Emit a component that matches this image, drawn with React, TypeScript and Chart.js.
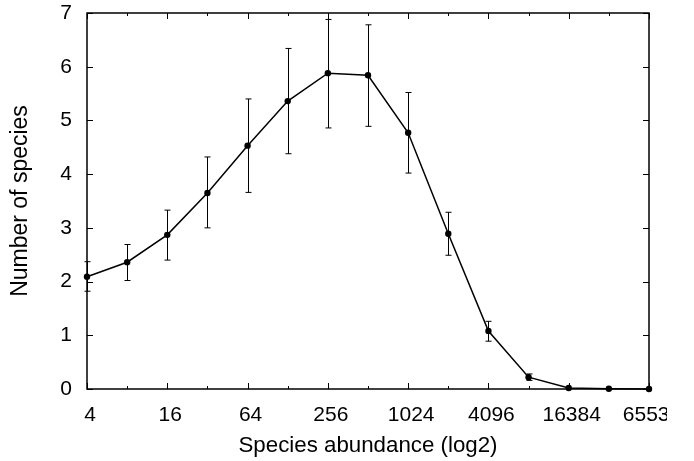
import React, { useEffect, useRef } from "react";
import { Chart, registerables } from "chart.js";

Chart.register(...registerables);

// Species abundance classes (log2 bins)
const abundance = [4, 8, 16, 32, 64, 128, 256, 512, 1024, 2048, 4096, 8192, 16384, 32768, 65536];
// Mean number of species per bin
const species = [2.09, 2.36, 2.87, 3.65, 4.53, 5.36, 5.88, 5.84, 4.77, 2.89, 1.08, 0.22, 0.02, 0.005, 0.0];
// Error bar bounds
const errLow = [1.82, 2.02, 2.4, 3.0, 3.66, 4.38, 4.86, 4.89, 4.02, 2.49, 0.89, 0.16, 0.02, 0.005, 0.0];
const errHigh = [2.37, 2.69, 3.33, 4.32, 5.4, 6.34, 6.88, 6.78, 5.52, 3.29, 1.26, 0.28, 0.02, 0.005, 0.0];
// Labelled x ticks
const xTickLabels = ["4", "16", "64", "256", "1024", "4096", "16384", "65536"];
const yTicks = [0, 1, 2, 3, 4, 5, 6, 7];

const FONT = "'Liberation Sans', Arial, Helvetica, sans-serif";

export default function App() {
  const ref = useRef<HTMLCanvasElement>(null);

  useEffect(() => {
    const canvas = ref.current!;
    const line = (ctx: CanvasRenderingContext2D, x1: number, y1: number, x2: number, y2: number) => {
      ctx.beginPath();
      ctx.moveTo(x1, y1);
      ctx.lineTo(x2, y2);
      ctx.stroke();
    };

    const framePlugin = {
      id: "gnuframe",
      beforeDatasetsDraw(chart: any) {
        const { ctx, chartArea, scales } = chart;
        const { left, right, top, bottom } = chartArea;
        const x = scales.x;
        const y = scales.y;
        ctx.save();
        ctx.strokeStyle = "#000";
        ctx.lineWidth = 1;
        abundance.forEach((v) => {
          const px = Math.round(x.getPixelForValue(v)) + 0.5;
          const major = xTickLabels.includes(String(v));
          const len = major ? 6 : 3;
          line(ctx, px, bottom, px, bottom - len);
          line(ctx, px, top, px, top + len);
        });
        yTicks.forEach((v) => {
          const py = Math.round(y.getPixelForValue(v)) + 0.5;
          line(ctx, left, py, left + 6, py);
          line(ctx, right, py, right - 6, py);
        });
        // error bars
        abundance.forEach((v, i) => {
          if (errHigh[i] - errLow[i] < 0.02) return;
          const px = Math.round(x.getPixelForValue(v)) + 0.5;
          const y1 = y.getPixelForValue(errLow[i]);
          const y2 = y.getPixelForValue(errHigh[i]);
          line(ctx, px, y1, px, y2);
          line(ctx, px - 3, y1, px + 3, y1);
          line(ctx, px - 3, y2, px + 3, y2);
        });
        ctx.lineWidth = 1.5;
        ctx.strokeRect(left, top, right - left, bottom - top);
        ctx.restore();
      },
      afterDraw(chart: any) {
        const { ctx, scales } = chart;
        const x = scales.x;
        ctx.save();
        ctx.beginPath();
        ctx.rect(0, 0, 667, 461);
        ctx.clip();
        ctx.font = `21px ${FONT}`;
        ctx.fillStyle = "#000";
        ctx.textAlign = "center";
        ctx.textBaseline = "alphabetic";
        xTickLabels.forEach((t) => {
          ctx.fillText(t, x.getPixelForValue(Number(t)) + 3, 421);
        });
        ctx.restore();
      },
    };

    const chart = new Chart(canvas, {
      type: "line",
      data: {
        datasets: [
          {
            data: abundance.map((a, i) => ({ x: a, y: species[i] })),
            borderColor: "#000",
            borderWidth: 1.5,
            pointRadius: 3.2,
            pointBackgroundColor: "#000",
            pointBorderColor: "#000",
            pointBorderWidth: 0,
            tension: 0,
            clip: false as any,
          },
        ],
      },
      options: {
        responsive: false,
        animation: false,
        devicePixelRatio: 1,
        layout: { padding: { left: 0, right: 45, top: 13, bottom: 0 } },
        plugins: { legend: { display: false }, tooltip: { enabled: false } },
        scales: {
          x: {
            type: "logarithmic",
            min: 4,
            max: 65536,
            grid: { display: false, drawTicks: false },
            border: { display: false },
            ticks: { display: false },
            afterBuildTicks: (s: any) => {
              s.ticks = abundance.map((v) => ({ value: v }));
            },
            afterFit: (s: any) => {
              s.height = 72;
              s.paddingLeft = 0;
              s.paddingRight = 0;
            },
            title: {
              display: true,
              text: "Species abundance (log2)",
              color: "#000",
              font: { family: FONT, size: 22.3 },
              padding: { top: 0, bottom: 2 },
            },
          },
          y: {
            min: 0,
            max: 7,
            grid: { display: false, drawTicks: false },
            border: { display: false },
            ticks: {
              stepSize: 1,
              padding: 15,
              color: "#000",
              font: { family: FONT, size: 21 },
            },
            afterFit: (s: any) => {
              s.width = 87;
              s.paddingTop = 0;
              s.paddingBottom = 0;
            },
            title: {
              display: true,
              text: "Number of species",
              color: "#000",
              font: { family: FONT, size: 23 },
              padding: { top: 7, bottom: 0 },
            },
          },
        },
      },
      plugins: [framePlugin],
    });
    return () => chart.destroy();
  }, []);

  return (
    <div style={{ position: "fixed", left: 0, top: 0, width: 694, height: 461, background: "#fff" }}>
      <canvas ref={ref} width={694} height={461} />
    </div>
  );
}
